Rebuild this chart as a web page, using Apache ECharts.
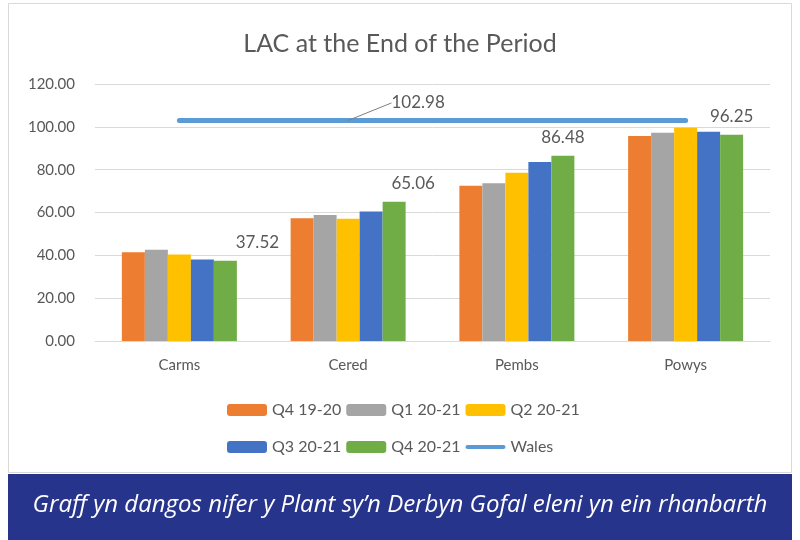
<!DOCTYPE html>
<html>
<head>
<meta charset="utf-8">
<title>LAC at the End of the Period</title>
<script src="https://cdn.jsdelivr.net/npm/echarts@6/dist/echarts.min.js"></script>
<style>
    html, body { margin: 0; padding: 0; background: #fff; }
    #chart { width: 800px; height: 540px; }
</style>
</head>
<body>
<div id="chart"></div>
<script>
// 数据
var categories = ['Carms', 'Cered', 'Pembs', 'Powys'];
var q4_1920 = [41.4, 57.3, 72.5, 95.7];
var q1_2021 = [42.6, 58.8, 73.6, 97.2];
var q2_2021 = [40.4, 57.1, 78.6, 99.6];
var q3_2021 = [38.1, 60.5, 83.6, 97.7];
var q4_2021 = [37.52, 65.06, 86.48, 96.25];
var wales = [102.98, 102.98, 102.98, 102.98];
var yTicks = [0, 20, 40, 60, 80, 100, 120];

var txtColor = '#595959';
var fontName = 'Lato, "Liberation Sans", sans-serif';

// 柱子
function barSeries(name, data, color) {
    return {
        name: name,
        type: 'bar',
        data: data,
        barWidth: 23,
        barGap: '0%',
        itemStyle: { color: color },
        z: 2
    };
}

// 绿色柱子上的数值标签，前两个往右挪一点
var lastData = q4_2021.map(function (v, i) {
    var off = [[32, 0], [19, 0], [0, 0], [0, 0]][i];
    return { value: v, label: { show: true, offset: off } };
});

var series = [
    barSeries('Q4 19-20', q4_1920, '#ED7D31'),
    barSeries('Q1 20-21', q1_2021, '#A5A5A5'),
    barSeries('Q2 20-21', q2_2021, '#FFC000'),
    barSeries('Q3 20-21', q3_2021, '#4472C4'),
    {
        name: 'Q4 20-21',
        type: 'bar',
        data: lastData,
        barWidth: 23,
        barGap: '0%',
        itemStyle: { color: '#70AD47' },
        label: {
            position: 'top',
            distance: 10,
            color: txtColor,
            fontSize: 17,
            fontFamily: fontName,
            formatter: function (p) { return p.value.toFixed(2); }
        }
    },
    {
        name: 'Wales',
        type: 'line',
        data: wales.map(function (v, i) {
            return { value: v, label: { show: i === 1 } };
        }),
        symbol: 'circle',
        symbolSize: 0,
        showSymbol: true,
        lineStyle: { color: '#5B9BD5', width: 5, cap: 'round' },
        itemStyle: { color: '#5B9BD5' },
        label: {
            position: 'top',
            color: txtColor,
            fontSize: 17,
            fontFamily: fontName,
            formatter: function (p) { return p.value.toFixed(2); }
        },
        labelLayout: { dx: 70, dy: -4 },
        labelLine: { show: true, lineStyle: { color: '#7f7f7f', width: 1 } },
        z: 3
    }
];

var legendText = { color: txtColor, fontSize: 16, fontFamily: fontName };
// 图例里 Wales 用粗线条
var walesIcon = 'path://M0,0 M2,4 L38,4 A2,2 0 0 1 38,8 L2,8 A2,2 0 0 1 2,4 Z M40,12';

var myChart = echarts.init(document.getElementById('chart'));
var option = {
    animation: false,
    backgroundColor: '#fff',
    title: {
        text: 'LAC at the End of the Period',
        left: 'center',
        top: 26,
        textStyle: { color: txtColor, fontSize: 25, fontWeight: 'normal', fontFamily: fontName }
    },
    legend: [{
        data: ['Q4 19-20', 'Q1 20-21', 'Q2 20-21'],
        left: 222,
        top: 397,
        itemWidth: 40,
        itemHeight: 12,
        itemGap: 5,
        textStyle: legendText
    }, {
        data: ['Q3 20-21', 'Q4 20-21', { name: 'Wales', icon: walesIcon }],
        left: 222,
        top: 434,
        itemWidth: 40,
        itemHeight: 12,
        itemGap: 5,
        textStyle: legendText
    }],
    grid: { left: 95, right: 30, top: 84, bottom: 199 },
    xAxis: {
        type: 'category',
        data: categories,
        axisTick: { show: false },
        axisLine: { lineStyle: { color: '#d9d9d9' } },
        axisLabel: { color: txtColor, fontSize: 15, fontFamily: fontName, margin: 17 }
    },
    yAxis: {
        type: 'value',
        min: yTicks[0],
        max: yTicks[yTicks.length - 1],
        interval: 20,
        axisLabel: {
            color: txtColor, fontSize: 15, fontFamily: fontName, margin: 20,
            formatter: function (v) { return v.toFixed(2); }
        },
        splitLine: { lineStyle: { color: '#d9d9d9' } }
    },
    graphic: [
        {
            type: 'rect',
            shape: { x: 8.5, y: 3.5, width: 783, height: 469 },
            style: { fill: 'none', stroke: '#d9d9d9', lineWidth: 1 },
            silent: true,
            z: -1
        },
        {
            type: 'rect',
            shape: { x: 8, y: 474, width: 784, height: 66 },
            style: { fill: '#27348B' },
            silent: true
        },
        {
            type: 'text',
            x: 400,
            y: 505,
            style: {
                text: 'Graff yn dangos nifer y Plant sy\u2019n Derbyn Gofal eleni yn ein rhanbarth',
                fill: '#fff',
                fontSize: 24,
                fontStyle: 'italic',
                fontFamily: '"Open Sans", sans-serif',
                align: 'center',
                verticalAlign: 'middle'
            }
        }
    ],
    series: series
};
myChart.setOption(option);
</script>
</body>
</html>
